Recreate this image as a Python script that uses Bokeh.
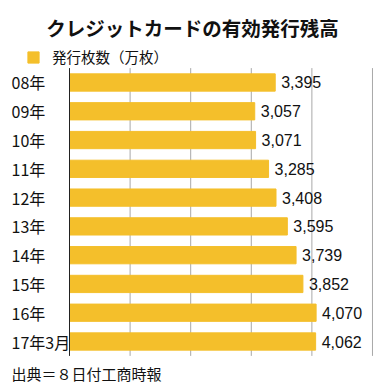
from bokeh.plotting import figure
from bokeh.models import (ColumnDataSource, Range1d, Label, Legend, LegendItem)
from bokeh.core.properties import value
from bokeh.embed import file_html
from bokeh.resources import INLINE

# ---- data ----
categories = ["08年", "09年", "10年", "11年", "12年", "13年", "14年", "15年", "16年", "17年3月"]
values = [3395, 3057, 3071, 3285, 3408, 3595, 3739, 3852, 4070, 4062]
series_name = "発行枚数（万枚）"
title_text = "クレジットカードの有効発行残高"
source_text = "出典＝８日付工商時報"
grid_ticks = [1000, 2000, 3000, 4000, 5000]

FONT = "Noto Sans CJK JP"
NUMFONT = "Liberation Sans"
BAR = "#F4BF2B"
INK = "#111111"
GRID = "#a8a8a8"

n = len(categories)
ypos = [n - 1 - i for i in range(n)]          # first category at the top
src = ColumnDataSource(dict(
    cat=categories,
    y=ypos,
    val=values,
    lab=[f"{v:,}" for v in values],
    zero=[0] * n,
))
gsrc = ColumnDataSource(dict(x=grid_ticks,
                             y0=[-0.5] * len(grid_ticks),
                             y1=[n - 0.5] * len(grid_ticks)))

W, H = 381, 392
p = figure(width=W, height=H,
           x_range=Range1d(-1139, 5149),
           y_range=Range1d(-1.772, 11.849),
           output_backend="svg", toolbar_location=None,
           min_border=0)
p.outline_line_color = None
p.axis.visible = False
p.grid.visible = False

# vertical grid lines spanning the category band only
p.segment(x0="x", x1="x", y0="y0", y1="y1", source=gsrc, line_color=GRID, line_width=1)

r = p.hbar(y="y", left=0, right="val", height=0.6, color=BAR, source=src)

# value axis baseline
p.segment(x0=[0], x1=[0], y0=[-0.5], y1=[n - 0.5], line_color="#222222", line_width=1)

p.text(x="val", y="y", text="lab", source=src, x_offset=6,
       text_align="left", text_baseline="middle",
       text_font=value(NUMFONT), text_font_size="16px", text_color=INK)
p.text(x="zero", y="y", text="cat", source=src, x_offset=-58,
       text_align="left", text_baseline="middle",
       text_font=value(FONT), text_font_size="16px", text_color=INK)

legend = Legend(items=[LegendItem(label=series_name, renderers=[r])],
                location=(26, 325), orientation="horizontal",
                glyph_width=14, glyph_height=14, label_height=14, label_standoff=12,
                padding=0, margin=0, spacing=0,
                border_line_color=None, background_fill_alpha=0,
                label_text_font=FONT, label_text_font_size="14.5px", label_text_color=INK)
p.add_layout(legend, "center")

p.add_layout(Label(x=192, y=H - 27, x_units="screen", y_units="screen", text=title_text,
                   text_align="center", text_baseline="middle",
                   text_font=FONT, text_font_size="19.5px", text_font_style="bold",
                   text_color=INK))
p.add_layout(Label(x=11, y=H - 373, x_units="screen", y_units="screen", text=source_text,
                   text_align="left", text_baseline="middle",
                   text_font=FONT, text_font_size="15px", text_color=INK))

open("out.html", "w").write(file_html(p, INLINE))
